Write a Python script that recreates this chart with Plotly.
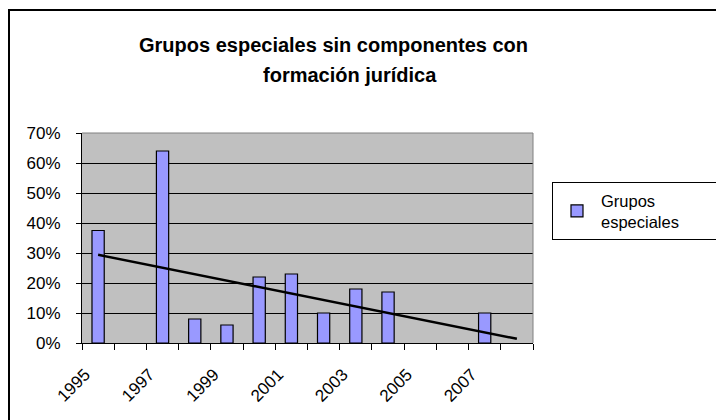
import numpy as np
import plotly.graph_objects as go

years = [1995, 1996, 1997, 1998, 1999, 2000, 2001, 2002, 2003, 2004, 2005, 2006, 2007, 2008]
grupos_especiales = [0.375, 0.0, 0.64, 0.08, 0.06, 0.22, 0.23, 0.10, 0.18, 0.17, 0.0, 0.0, 0.10, 0.0]
year_labels = [1995, 1997, 1999, 2001, 2003, 2005, 2007]

FONT = "Liberation Sans, Arial, sans-serif"

# the page body adds an 8px offset, so margins are shifted by that
L, T = 74, 125
PW, PH = 451, 210


def px_x(x):
    return (x - 8 - L) / PW


def px_y(y):
    return (T + PH - (y - 8)) / PH


# linear trend over the category index, like Excel's trendline
idx = np.arange(1, len(years) + 1)
slope, intercept = np.polyfit(idx, grupos_especiales, 1)
trend = slope * idx + intercept

fig = go.Figure()
fig.add_trace(go.Bar(
    x=years,
    y=grupos_especiales,
    name="Grupos<br>especiales",
    width=0.38,
    marker=dict(color="#9999FF",
                line=dict(color="black", width=[1.2 if v > 0 else 0 for v in grupos_especiales])),
))
fig.add_trace(go.Scatter(
    x=years,
    y=trend,
    mode="lines",
    line=dict(color="black", width=2.5),
    showlegend=False,
    hoverinfo="skip",
))

fig.update_layout(
    width=724,
    height=420,
    margin=dict(l=L, r=724 - L - PW, t=T, b=420 - T - PH, autoexpand=False),
    paper_bgcolor="white",
    plot_bgcolor="#C0C0C0",
    font=dict(family=FONT, size=17, color="black"),
    showlegend=True,
    legend=dict(
        orientation="h",
        x=px_x(552), y=px_y(182), xanchor="left", yanchor="top",
        bordercolor="black", borderwidth=1,
        font=dict(size=16.5),
        entrywidth=166,
        itemwidth=38,
        tracegroupgap=0,
    ),
    xaxis=dict(
        range=[1994.5, 2008.5],
        tickmode="array",
        tickvals=year_labels,
        ticktext=[str(y) for y in year_labels],
        tickangle=-45,
        ticks="",
        ticklabelstandoff=14,
        ticklabelshift=-13,
        showgrid=False,
        zeroline=False,
        showline=True,
        linecolor="black",
        linewidth=1,
        minor=dict(tick0=1994.5, dtick=1, ticks="outside", ticklen=6,
                   tickcolor="black", showgrid=False),
    ),
    yaxis=dict(
        range=[0, 0.7],
        dtick=0.1,
        tickformat=".0%",
        ticks="outside",
        ticklen=5,
        tickcolor="black",
        ticklabelstandoff=12,
        showgrid=True,
        gridcolor="black",
        gridwidth=1,
        zeroline=False,
        showline=True,
        linecolor="black",
        linewidth=1,
    ),
    annotations=[
        dict(text="<b>Grupos especiales sin componentes con</b>", xref="paper", yref="paper",
             x=px_x(333), y=px_y(45), xanchor="center", yanchor="middle",
             showarrow=False, font=dict(size=20)),
        dict(text="<b>formación jurídica</b>", xref="paper", yref="paper",
             x=px_x(350), y=px_y(75), xanchor="center", yanchor="middle",
             showarrow=False, font=dict(size=20)),
    ],
    shapes=[
        # outer chart border
        dict(type="rect", xref="paper", yref="paper",
             x0=px_x(9), x1=2.0, y0=-1.0, y1=px_y(10),
             line=dict(color="black", width=2)),
        # plot area top and right edges
        dict(type="line", xref="paper", yref="paper", x0=0, x1=1, y0=1, y1=1,
             line=dict(color="#808080", width=1)),
        dict(type="line", xref="paper", yref="paper", x0=1, x1=1, y0=0, y1=1,
             line=dict(color="#808080", width=1)),
    ],
)

fig.write_html("out.html")
